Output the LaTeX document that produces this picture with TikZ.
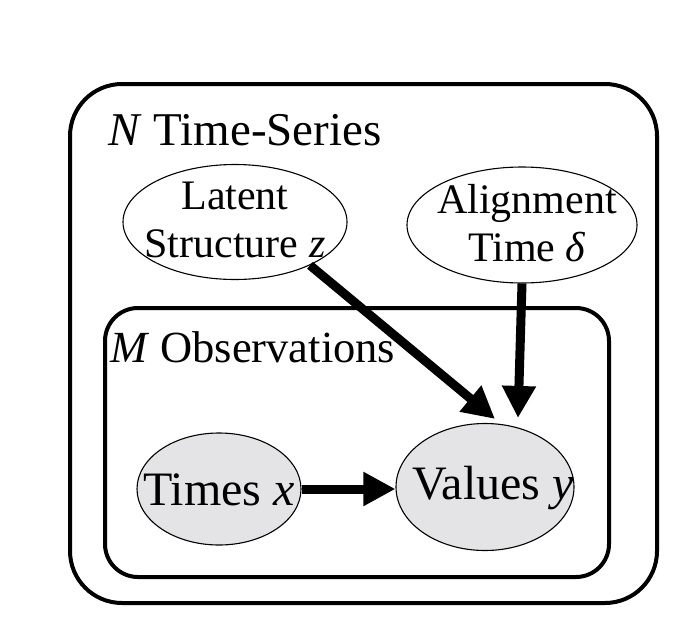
\documentclass[tikz,border=0pt]{standalone}
\usepackage{fontspec}
\setmainfont{Liberation Serif}
\usetikzlibrary{shapes.geometric,arrows.meta}
\definecolor{obsfill}{RGB}{228,228,230}
\tikzset{
  plate/.style={draw=black, line width=4pt},
  latentnode/.style={ellipse, draw=black, line width=1.1pt, fill=white, inner sep=0pt},
  obsnode/.style={ellipse, draw=black, line width=1.1pt, fill=obsfill, inner sep=0pt},
  smalltext/.style={align=center, inner sep=0pt, font=\fontsize{42pt}{48pt}\selectfont},
  bigtext/.style={align=center, inner sep=0pt, font=\fontsize{48pt}{56pt}\selectfont},
  platelabel/.style={anchor=base west, inner sep=0pt},
  bigarrow/.style={line width=9pt, -{Triangle[length=32pt,width=32pt]}}
}
\begin{document}
\begin{tikzpicture}[x=1pt,y=-1pt]
\useasboundingbox (0,0) rectangle (698,634);
% plates
\draw[plate, rounded corners=52pt] (70,84) rectangle (657,603);
\draw[plate, rounded corners=33pt] (105,308) rectangle (609,577);
\node[platelabel, font=\fontsize{47pt}{54pt}\selectfont] (nlabel) at (108,145) {\textit{N} Time-Series};
\node[platelabel, font=\fontsize{44.5pt}{52pt}\selectfont] (mlabel) at (110,362) {\textit{M} Observations};
% nodes
\node[latentnode, minimum width=224pt, minimum height=115pt,
  label={[smalltext, yshift=2pt]center:Latent\\Structure \textit{z}}] (lat) at (235,222) {};
\node[latentnode, minimum width=230pt, minimum height=116pt,
  label={[smalltext, xshift=5pt, yshift=2pt]center:Alignment\\Time \textit{δ}}] (al) at (522,225) {};
\node[obsnode, minimum width=164pt, minimum height=112pt,
  label={[bigtext, yshift=-1pt]center:Times \textit{x}}] (tx) at (219,489) {};
\node[obsnode, minimum width=178pt, minimum height=127pt,
  label={[bigtext, xshift=8pt, yshift=-1pt]center:Values \textit{y}}] (val) at (485,487) {};
% arrows
\draw[bigarrow] (lat.-30) -- ([xshift=10pt,yshift=4pt]val.north);
\draw[bigarrow] (al.south) -- ([xshift=33pt,yshift=5pt]val.north);
\draw[bigarrow] (tx.east) -- (tx.east -| val.west);
\end{tikzpicture}
\end{document}
